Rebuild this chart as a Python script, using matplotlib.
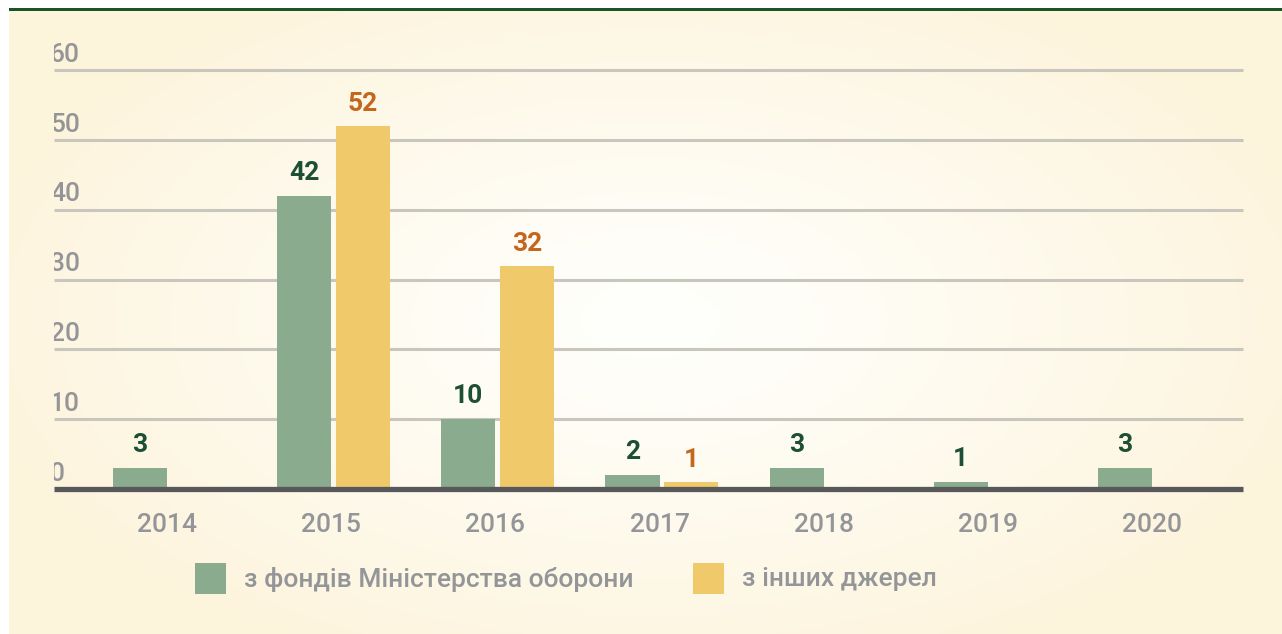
import matplotlib
matplotlib.use('Agg')
import matplotlib.pyplot as plt
import numpy as np
from matplotlib.patches import Rectangle
from matplotlib.transforms import Bbox, TransformedBbox, offset_copy, blended_transform_factory

plt.rcParams['font.family'] = ['Roboto', 'DejaVu Sans']

years = ['2014', '2015', '2016', '2017', '2018', '2019', '2020']
mod_funds = [3, 42, 10, 2, 3, 1, 3]
other_funds = [np.nan, 52, 32, 1, np.nan, np.nan, np.nan]
y_ticks = [0, 10, 20, 30, 40, 50, 60]
legend_labels = ['з фондів Міністерства оборони', 'з інших джерел']

green = '#8aab8e'
yellow = '#f0ca6a'
green_txt = '#1d4f34'
orange_txt = '#c4661c'
gray_txt = '#939598'

W, H = 1282, 634
fig = plt.figure(figsize=(W / 100, H / 100), dpi=100)
fig.patch.set_facecolor('white')

# background panel with soft radial gradient
bg = fig.add_axes([9 / W, 0, 1 - 9 / W, 1 - 11 / H])
bg.set_axis_off()
xx, yy = np.meshgrid(np.linspace(9, W, 400), np.linspace(11, H, 200))
t = np.clip(np.sqrt(((xx - 650) / 700) ** 2 + ((yy - 320) / 380) ** 2), 0, 1) ** 1.2
c0 = np.array([255, 255, 252]) / 255
c1 = np.array([253, 244, 220]) / 255
img = c0[None, None, :] * (1 - t[..., None]) + c1[None, None, :] * t[..., None]
bg.imshow(img, aspect='auto', extent=[0, 1, 0, 1], origin='upper')
bg.set_xlim(0, 1)
bg.set_ylim(0, 1)

# dark green rule at top
fig.add_artist(Rectangle((9 / W, 1 - 11 / H), 1 - 9 / W, 3 / H, transform=fig.transFigure,
                         facecolor='#1a5527', edgecolor='none'))

left, right = 54 / W, 1243 / W
bottom, top = (H - 489) / H, (H - 70) / H
ax = fig.add_axes([left, bottom, right - left, top - bottom])
ax.patch.set_alpha(0)
ax.set_xlim(-0.688, 6.554)
ax.set_ylim(0, 60)
ax.set_axis_off()

for v in y_ticks[1:]:
    ax.axhline(v, color='#c9c6bd', lw=2.2, clip_on=False, zorder=1, solid_capstyle='butt')
ax.axhline(0, color='#58585a', lw=3.8, clip_on=False, zorder=4, solid_capstyle='butt')

x = np.arange(len(years))
bw = 0.329
gap = 0.03
ax.bar(x - bw / 2, mod_funds, width=bw, color=green, zorder=2)
ax.bar(x + gap + bw / 2, other_funds, width=bw, color=yellow, zorder=2)

for xi, v in zip(x, mod_funds):
    ax.annotate(str(v), (xi - bw / 2, v), xytext=(0, 8), textcoords='offset points',
                ha='center', va='bottom', fontsize=19, fontweight='bold', color=green_txt)
for xi, v in zip(x, other_funds):
    if not np.isnan(v):
        ax.annotate(str(int(v)), (xi + gap + bw / 2, v), xytext=(0, 7), textcoords='offset points',
                    ha='center', va='bottom', fontsize=19, fontweight='bold', color=orange_txt)

# y tick labels, clipped at the left edge of the plot
clip = TransformedBbox(Bbox([[0, -0.3], [1.2, 1.3]]), ax.transAxes)
trans_y = blended_transform_factory(ax.transAxes, ax.transData)
for v in y_ticks:
    tr = offset_copy(trans_y, fig=fig, x=-3, y=6, units='points')
    txt = ax.text(0, v, str(v), transform=tr, ha='left', va='baseline',
                  fontsize=19, fontweight='medium', color=gray_txt, clip_on=True)
    txt.set_clip_box(clip)

# category labels
trans_x = blended_transform_factory(ax.transData, ax.transAxes)
for xi, yr in zip(x, years):
    ax.text(xi, 0, yr, transform=offset_copy(trans_x, fig=fig, y=-17, units='points'),
            ha='center', va='top', fontsize=19, fontweight='medium', color=gray_txt)

# legend
for (x0, lbl, col) in [(195, legend_labels[0], green), (693, legend_labels[1], yellow)]:
    fig.add_artist(Rectangle((x0 / W, (H - 594) / H), 31 / W, 31 / H, transform=fig.transFigure,
                             facecolor=col, edgecolor='none'))
    fig.text((x0 + 49) / W, (H - 579) / H, lbl, ha='left', va='center',
             fontsize=19, fontweight='medium', color=gray_txt)

fig.savefig('out.png', dpi=100)
